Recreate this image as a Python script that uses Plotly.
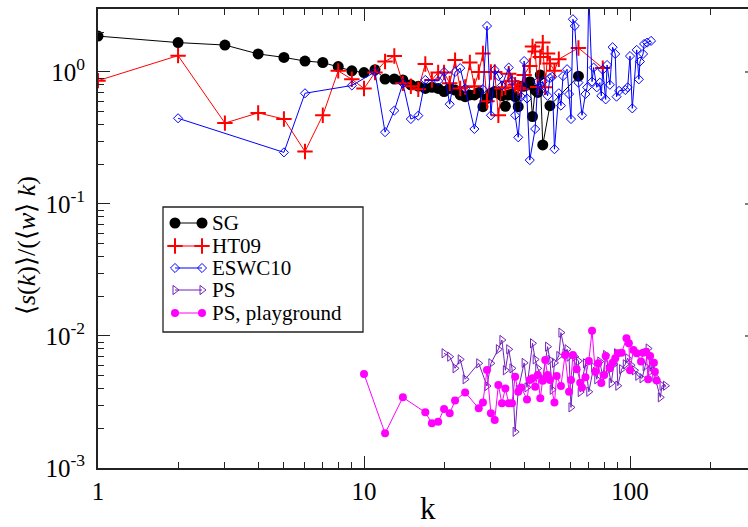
import plotly.graph_objects as go
import math

# ---------------- data ----------------
sg_k = [1, 2, 3, 4, 5, 6, 7, 8, 9, 10, 11, 12, 13, 14, 15, 16, 17, 18, 19, 20,
        21, 22, 23, 24, 25, 26, 27, 28, 29, 30, 31, 32, 33, 34, 35, 36, 37, 38,
        39, 40, 41, 42, 43, 44, 45, 46, 47, 50, 64]
sg_v = [1.87, 1.67, 1.60, 1.37, 1.29, 1.21, 1.18, 1.10, 1.02, 0.99, 1.04, 0.885,
        0.885, 0.87, 0.80, 0.78, 0.75, 0.765, 0.75, 0.71, 0.75, 0.73, 0.67, 0.65,
        0.67, 0.67, 0.70, 0.546, 0.63, 0.69, 0.71, 0.69, 0.66, 0.55, 0.67, 0.68,
        0.65, 0.546, 0.78, 0.78, 0.80, 0.845, 0.46, 0.73, 0.70, 0.95, 0.28, 0.556, 0.93]

ht_k = [1, 2, 3, 4, 5, 6, 7, 8, 9, 10, 11, 12, 13, 14, 15, 16, 17, 18, 19, 20,
        21, 22, 23, 24, 25, 26, 27, 28, 29, 30, 31, 32, 33, 34, 35, 36, 37, 38,
        39, 40, 42, 43, 44, 45, 46, 47, 48, 49, 50, 52, 54, 64, 79]
ht_v = [0.86, 1.33, 0.41, 0.49, 0.44, 0.25, 0.47, 1.02, 0.88, 0.75, 0.99, 1.20,
        1.32, 0.82, 0.78, 0.74, 1.15, 0.87, 0.99, 0.99, 0.82, 1.23, 0.75, 0.77,
        1.18, 0.78, 1.0, 1.38, 0.60, 1.0, 1.0, 0.47, 0.75, 0.765, 0.97, 0.85,
        0.80, 0.76, 0.74, 0.95, 1.11, 1.56, 1.43, 0.77, 1.30, 1.67, 0.765, 1.38,
        1.16, 1.02, 1.25, 1.52, 1.07]

es_k = [2, 5, 6, 9, 11, 12, 13, 14, 15, 16, 17, 19, 20, 21, 22, 23, 24, 26, 28,
        29, 30, 31, 32, 33, 35, 36, 37, 38, 39, 40, 41, 42, 44, 45, 46, 47, 49,
        50, 51, 52, 54, 55, 56, 58, 59, 60, 61, 62, 64, 66, 68, 69, 70, 72, 73,
        75, 77, 78, 79, 81, 82, 84, 86, 88, 89, 91, 96, 98, 100, 102, 106, 108,
        109, 112, 113, 116, 120]
es_v = [0.446, 0.246, 0.69, 0.79, 1.0, 0.35, 0.51, 0.82, 0.44, 0.467, 0.87, 0.855,
        1.0, 0.57, 1.0, 1.07, 0.75, 0.37, 0.74, 2.23, 0.47, 1.04, 0.93, 0.79,
        1.08, 0.855, 0.47, 0.32, 0.65, 1.21, 0.63, 0.215, 0.37, 0.845, 0.72,
        0.845, 0.66, 0.90, 0.92, 0.26, 0.69, 0.556, 0.93, 1.05, 0.68, 0.44, 2.51,
        2.23, 0.83, 0.47, 0.68, 0.765, 4.0, 0.845, 1.08, 0.765, 0.83, 0.66, 1.04,
        0.62, 1.13, 0.80, 1.54, 1.37, 0.65, 0.72, 0.73, 0.765, 1.32, 0.53, 1.47,
        0.88, 1.20, 1.37, 1.63, 1.67, 1.72]

ps_k = [20, 21, 22, 23, 24, 27, 29, 30, 32, 33, 34, 35, 36, 37, 38, 40, 41, 43,
        44, 45, 47, 49, 50, 51, 52, 54, 55, 57, 58, 59, 60, 62, 64, 65, 68, 70,
        73, 75, 77, 79, 81, 83, 85, 87, 89, 90, 93, 96, 98, 101, 104, 107, 111,
        114, 117, 119, 122, 124, 130, 132, 136]
ps_v = [0.0074, 0.00697, 0.00569, 0.00665, 0.0047, 0.00621, 0.00418, 0.00621,
        0.00793, 0.00933, 0.0055, 0.00793, 0.00569, 0.00188, 0.00392, 0.00626,
        0.00408, 0.0088, 0.00665, 0.00569, 0.0047, 0.0083, 0.00658, 0.00392,
        0.00626, 0.00705, 0.0106, 0.0074, 0.00793, 0.00697, 0.00288, 0.00697,
        0.00647, 0.00376, 0.00621, 0.00378, 0.0058, 0.0047, 0.0064, 0.0049,
        0.00718, 0.00555, 0.0044, 0.0061, 0.0074, 0.0042, 0.0056, 0.0061,
        0.00678, 0.006, 0.0055, 0.005, 0.00478, 0.0059, 0.00804, 0.0054, 0.0061,
        0.0049, 0.00343, 0.0042, 0.0042]

pg_k = [10, 12, 14, 17, 18, 19, 20, 21, 22, 24, 27, 28, 29, 30, 31, 32, 33, 34,
        35, 36, 37, 38, 39, 41, 42, 43, 44, 45, 46, 47, 48, 49, 50, 52, 53, 55,
        57, 59, 60, 61, 63, 65, 66, 68, 70, 72, 74, 76, 78, 80, 81, 84, 86, 88,
        90, 93, 97, 99, 100, 103, 106, 110, 112, 115, 117, 119, 123, 124, 126]
pg_v = [0.00515, 0.00183, 0.00343, 0.00264, 0.00218, 0.00224, 0.0028, 0.0026,
        0.00324, 0.00374, 0.00283, 0.00313, 0.00552, 0.0026, 0.00231, 0.00425,
        0.00309, 0.00401, 0.00309, 0.00309, 0.00492, 0.00378, 0.00408, 0.00331,
        0.00464, 0.00478, 0.00413, 0.00507, 0.00337, 0.00459, 0.00658, 0.00507,
        0.00464, 0.00313, 0.00498, 0.00418, 0.00718, 0.00378, 0.00464, 0.00718,
        0.0056, 0.00443, 0.00408, 0.00487, 0.00647, 0.01097, 0.00537, 0.00621,
        0.0044, 0.00507, 0.00705, 0.00569, 0.00626, 0.00678, 0.0074, 0.00745,
        0.0096, 0.0088, 0.0055, 0.00784, 0.0074, 0.0064, 0.00745, 0.0076, 0.0047,
        0.00705, 0.00626, 0.00537, 0.0046]

series_names = ["SG", "HT09", "ESWC10", "PS", "PS, playground"]
x_ticks = [1, 10, 100]
x_ticktext = ["1", "10", "100"]
y_ticks = [1e-3, 1e-2, 1e-1, 1]
y_ticktext = ["10<sup>-3</sup>", "10<sup>-2</sup>", "10<sup>-1</sup>", "10<sup>0</sup>"]

# ---------------- styles ----------------
FONT = "Liberation Serif, serif"
styles = [
    dict(color="black", symbol="circle", size=11, lw=0),
    dict(color="#ff0000", symbol="cross-thin", size=11, lw=2),
    dict(color="#0000ff", symbol="diamond-open", size=7, lw=1),
    dict(color="#7221bc", symbol="triangle-right-open", size=8, lw=1),
    dict(color="#ff00ff", symbol="circle", size=8, lw=0),
]
datasets = [(sg_k, sg_v), (ht_k, ht_v), (es_k, es_v), (ps_k, ps_v), (pg_k, pg_v)]

fig = go.Figure()
for (kx, vy), st, nm in zip(datasets, styles, series_names):
    fig.add_trace(go.Scatter(
        x=kx, y=vy, mode="lines+markers", name=nm, showlegend=False,
        line=dict(color=st["color"], width=1),
        marker=dict(symbol=st["symbol"], size=st["size"], color=st["color"],
                    line=dict(color=st["color"], width=st["lw"])),
    ))

# ---------------- layout geometry ----------------
W, H = 748, 527
L, R, T, B = 98, 0, 9, 59
PW = W - L - R
PH = H - T - B
dec_x = 266.0
x_max = PW / dec_x
y_min, y_max = -3.0, math.log10(3.0)

def px2paper_x(px):
    return (px - L) / PW

def px2paper_y(py):
    return (H - B - py) / PH

minor_x = [m * d for d in (1, 10, 100) for m in range(2, 10)]
minor_y = [m * d for d in (1e-3, 1e-2, 1e-1, 1) for m in range(2, 10)]

fig.update_layout(
    width=W, height=H,
    margin=dict(l=L, r=R, t=T, b=B, pad=0),
    paper_bgcolor="white", plot_bgcolor="white",
    font=dict(family=FONT, color="black"),
    xaxis=dict(type="log", range=[0, x_max], showgrid=False, zeroline=False,
               showline=True, linecolor="#222", linewidth=2, mirror="allticks",
               ticks="inside", ticklen=12, tickwidth=1.3, tickcolor="#222",
               tickmode="array", tickvals=x_ticks, ticktext=x_ticktext,
               tickfont=dict(family=FONT, size=25, color="black"),
               minor=dict(ticks="inside", ticklen=6, tickwidth=1.2, tickcolor="#222",
                          tickmode="array", tickvals=minor_x, showgrid=False)),
    yaxis=dict(type="log", range=[y_min, y_max], showgrid=False, zeroline=False,
               showline=True, linecolor="#222", linewidth=2, mirror=False,
               ticks="inside", ticklen=12, tickwidth=1.3, tickcolor="#222",
               tickmode="array", tickvals=y_ticks, ticktext=y_ticktext,
               tickfont=dict(family=FONT, size=25, color="black"),
               ticklabelstandoff=6,
               minor=dict(ticks="inside", ticklen=6, tickwidth=1.2, tickcolor="#222",
                          tickmode="array", tickvals=minor_y, showgrid=False)),
    xaxis2=dict(overlaying="x", range=[0, 1], visible=False, fixedrange=True),
    yaxis2=dict(overlaying="y", range=[0, 1], visible=False, fixedrange=True),
)

# right-hand tick stubs (axis lies just beyond the visible page)
shapes = []
for v in y_ticks[1:]:
    yp = (math.log10(v) - y_min) / (y_max - y_min)
    shapes.append(dict(type="line", xref="paper", yref="paper",
                       x0=px2paper_x(745), x1=1.0, y0=yp, y1=yp,
                       line=dict(color="#555", width=1.5)))

# legend box
shapes.append(dict(type="rect", xref="paper", yref="paper", layer="below",
                   x0=px2paper_x(163), x1=px2paper_x(363),
                   y0=px2paper_y(332), y1=px2paper_y(207),
                   line=dict(color="#222", width=1.3), fillcolor="white"))
fig.update_layout(shapes=shapes)

# legend entries
legend_y_px = [223, 246, 268, 290, 313]
sym_x = [px2paper_x(175), px2paper_x(202)]
annotations = []
for st, nm, ly in zip(styles, series_names, legend_y_px):
    yp = px2paper_y(ly)
    fig.add_trace(go.Scatter(
        x=sym_x, y=[yp, yp], xaxis="x2", yaxis="y2", mode="lines+markers",
        showlegend=False, hoverinfo="skip", cliponaxis=False,
        line=dict(color=st["color"], width=1),
        marker=dict(symbol=st["symbol"], size=st["size"], color=st["color"],
                    line=dict(color=st["color"], width=st["lw"])),
    ))
    annotations.append(dict(xref="paper", yref="paper", x=px2paper_x(210), y=yp,
                            text=nm, showarrow=False, xanchor="left", yanchor="middle",
                            font=dict(family=FONT, size=21, color="black")))

# axis titles
annotations.append(dict(xref="paper", yref="paper", x=px2paper_x(428), y=px2paper_y(508),
                        text="k", showarrow=False, xanchor="center", yanchor="middle",
                        font=dict(family=FONT, size=31, color="black")))
annotations.append(dict(xref="paper", yref="paper", x=px2paper_x(27), y=px2paper_y(246),
                        text="⟨<i>s</i>(<i>k</i>)⟩/(⟨<i>w</i>⟩ <i>k</i>)",
                        textangle=-90, showarrow=False, xanchor="center", yanchor="middle",
                        font=dict(family=FONT, size=26, color="black")))
fig.update_layout(annotations=annotations)

fig.write_html("out.html")
